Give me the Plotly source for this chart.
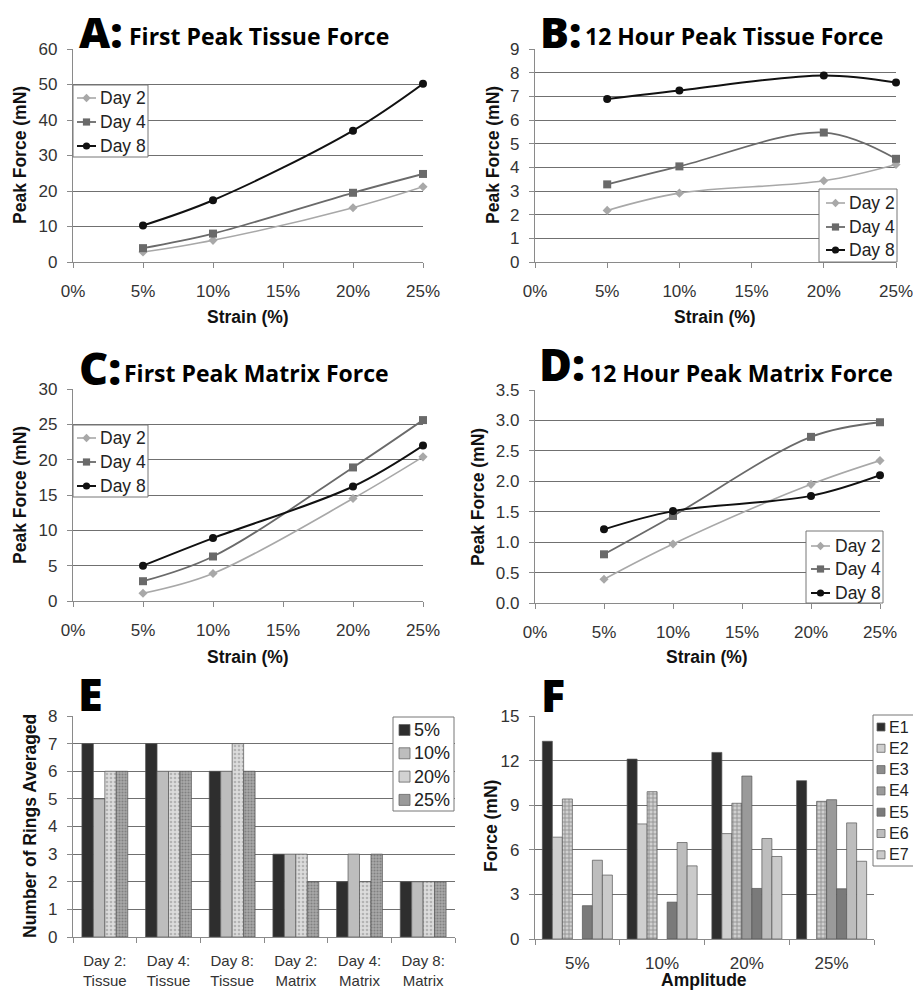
import plotly.graph_objects as go

W, H = 913, 990
def px(x): return x / W
def py(y): return 1 - y / H

# ---------------- data ----------------
strain = [5, 10, 20, 25]
strain_ticks = [0, 5, 10, 15, 20, 25]
strain_ticktext = ["0%", "5%", "10%", "15%", "20%", "25%"]
days = ["Day 2", "Day 4", "Day 8"]

a_day2 = [2.8, 6.1, 15.3, 21.2]
a_day4 = [3.9, 8.0, 19.5, 24.8]
a_day8 = [10.3, 17.4, 37.0, 50.2]

b_day2 = [2.18, 2.91, 3.43, 4.12]
b_day4 = [3.28, 4.04, 5.47, 4.36]
b_day8 = [6.89, 7.25, 7.88, 7.58]

c_day2 = [1.1, 3.9, 14.5, 20.4]
c_day4 = [2.8, 6.3, 18.9, 25.6]
c_day8 = [5.0, 8.9, 16.2, 22.0]

d_day2 = [0.39, 0.97, 1.95, 2.34]
d_day4 = [0.80, 1.43, 2.73, 2.97]
d_day8 = [1.21, 1.51, 1.76, 2.10]

e_categories = ["Day 2:<br>Tissue", "Day 4:<br>Tissue", "Day 8:<br>Tissue",
                "Day 2:<br>Matrix", "Day 4:<br>Matrix", "Day 8:<br>Matrix"]
e_series = ["5%", "10%", "20%", "25%"]
e_5 = [7, 7, 6, 3, 2, 2]
e_10 = [5, 6, 6, 3, 3, 2]
e_20 = [6, 6, 7, 3, 2, 2]
e_25 = [6, 6, 6, 2, 3, 2]

f_categories = ["5%", "10%", "20%", "25%"]
f_series = ["E1", "E2", "E3", "E4", "E5", "E6", "E7"]
f_E1 = [13.3, 12.1, 12.55, 10.65]
f_E2 = [6.85, 7.74, 7.09, None]
f_E3 = [9.42, 9.91, 9.13, 9.26]
f_E4 = [None, None, 10.96, 9.37]
f_E5 = [2.24, 2.48, 3.40, 3.38]
f_E6 = [5.30, 6.49, 6.76, 7.81]
f_E7 = [4.30, 4.92, 5.55, 5.23]

# ---------------- styles ----------------
ARIAL = "Liberation Sans, Arial, sans-serif"
TICKFONT = dict(family=ARIAL, size=17, color="#333")
GRID = "#707070"
AXIS = "#8a8a8a"
line_styles = [
    dict(color="#a8a8a8", width=1.6, symbol="diamond", msize=7),
    dict(color="#6a6a6a", width=1.8, symbol="square", msize=8),
    dict(color="#111111", width=2.0, symbol="circle", msize=8),
]

fig = go.Figure()

def add_lines(series, xa, ya):
    for name, vals, st in zip(days, series, line_styles):
        fig.add_trace(go.Scatter(
            x=strain, y=vals, name=name, mode="lines+markers", showlegend=False,
            line=dict(color=st["color"], width=st["width"], shape="spline", smoothing=1),
            marker=dict(symbol=st["symbol"], size=st["msize"], color=st["color"]),
            xaxis=xa, yaxis=ya, cliponaxis=False))

add_lines([a_day2, a_day4, a_day8], "x", "y")
add_lines([b_day2, b_day4, b_day8], "x2", "y2")
add_lines([c_day2, c_day4, c_day8], "x3", "y3")
add_lines([d_day2, d_day4, d_day8], "x4", "y4")

# E bars
e_vals = [e_5, e_10, e_20, e_25]
e_styles = [
    dict(color="#2e2e2e", swatch="#2e2e2e", pattern=None),
    dict(color="#bdbdbd", swatch="#bdbdbd", pattern=None),
    dict(color="#dcdcdc", swatch="#d2d2d2", pattern=dict(shape=".", fgcolor="#8a8a8a", size=4, solidity=0.35)),
    dict(color="#a9a9a9", swatch="#9a9a9a", pattern=dict(shape=".", fgcolor="#5a5a5a", size=3, solidity=0.4)),
]
ew = 0.18
for i, (name, vals, st) in enumerate(zip(e_series, e_vals, e_styles)):
    mk = dict(color=st["color"], line=dict(color="#555", width=0.7))
    if st["pattern"]:
        mk["pattern"] = st["pattern"]
    fig.add_trace(go.Bar(x=e_categories, y=vals, name=name, marker=mk,
                         width=ew, offset=-2 * ew + i * ew, showlegend=False,
                         xaxis="x5", yaxis="y5"))

# F bars
f_vals = [f_E1, f_E2, f_E3, f_E4, f_E5, f_E6, f_E7]
f_styles = [
    dict(color="#2e2e2e", swatch="#2e2e2e", pattern=None),
    dict(color="#cfcfcf", swatch="#cfcfcf", pattern=None),
    dict(color="#d0d0d0", swatch="#8c8c8c", pattern=dict(shape="+", fgcolor="#555", size=4, solidity=0.4)),
    dict(color="#9a9a9a", swatch="#9a9a9a", pattern=None),
    dict(color="#7a7a7a", swatch="#7a7a7a", pattern=None),
    dict(color="#bdbdbd", swatch="#bdbdbd", pattern=None),
    dict(color="#cacaca", swatch="#cacaca", pattern=None),
]
fw = 0.118
for i, (name, vals, st) in enumerate(zip(f_series, f_vals, f_styles)):
    mk = dict(color=st["color"], line=dict(color="#555", width=0.7))
    if st["pattern"]:
        mk["pattern"] = st["pattern"]
    fig.add_trace(go.Bar(x=f_categories, y=vals, name=name, marker=mk,
                         width=fw, offset=-3.5 * fw + i * fw, showlegend=False,
                         xaxis="x6", yaxis="y6"))

# ---------------- axes ----------------
def xline(dom, anchor, standoff=8):
    return dict(domain=[px(dom[0]), px(dom[1])], anchor=anchor, range=[0, 25],
                tickmode="array", tickvals=strain_ticks, ticktext=strain_ticktext,
                showgrid=False, showline=True, linecolor=AXIS, linewidth=1.3,
                ticks="outside", ticklen=5, tickcolor=AXIS, tickfont=TICKFONT,
                ticklabelstandoff=standoff, ticklabeloverflow="allow",
                zeroline=False, fixedrange=True)

def yax(dom, anchor, rng, dtick, fmt=None):
    d = dict(domain=[py(dom[1]), py(dom[0])], anchor=anchor, range=rng, dtick=dtick,
             tick0=0, showgrid=True, gridcolor=GRID, gridwidth=1.3,
             showline=True, linecolor=AXIS, linewidth=1.3, ticks="outside",
             ticklen=5, tickcolor=AXIS, tickfont=TICKFONT, zeroline=False,
             ticklabelstandoff=6, fixedrange=True)
    if fmt:
        d["tickformat"] = fmt
    return d

layout_axes = dict(
    xaxis=xline((73, 423), "y"),
    yaxis=yax((49, 262), "x", [0, 60], 10),
    xaxis2=xline((535, 896), "y2"),
    yaxis2=yax((49, 262), "x2", [0, 9], 1),
    xaxis3=xline((73, 423), "y3"),
    yaxis3=yax((389, 601), "x3", [0, 30], 5),
    xaxis4=xline((535, 880), "y4"),
    yaxis4=yax((390, 603), "x4", [0, 3.5], 0.5, ".1f"),
    xaxis5=dict(domain=[px(73), px(455)], anchor="y5", showgrid=False, showline=True,
                linecolor=AXIS, linewidth=1.3, ticks="outside", tickson="boundaries",
                ticklen=5, tickcolor=AXIS, ticklabelstandoff=10,
                tickfont=dict(family=ARIAL, size=15, color="#333"),
                fixedrange=True),
    yaxis5=yax((716, 937), "x5", [0, 8], 1),
    xaxis6=dict(domain=[px(535), px(874)], anchor="y6", showgrid=False, showline=True,
                linecolor=AXIS, linewidth=1.3, ticks="outside", tickson="boundaries",
                ticklen=5, tickcolor=AXIS, ticklabelstandoff=8, tickfont=TICKFONT,
                fixedrange=True),
    yaxis6=yax((716, 939), "x6", [0, 15], 3),
)

# ---------------- annotations & shapes ----------------
ann = []
shapes = []
BIG = dict(family="Open Sans, sans-serif", size=45, color="black", weight=800)
SUB = dict(family="Open Sans, sans-serif", size=23, color="black", weight=700)
AXT = dict(family=ARIAL, size=17.5, color="#111", weight=700)
LEGFONT = dict(family=ARIAL, size=17.5, color="#222")

def title(letter, lx, cy, text=None, tx=0, base=0, top=False):
    if top:
        ann.append(dict(text=letter, x=px(lx), y=1, xref="paper", yref="paper",
                        xanchor="left", yanchor="top", showarrow=False,
                        font=dict(BIG, size=43)))
    else:
        ann.append(dict(text=letter, x=px(lx), y=py(cy), xref="paper", yref="paper",
                        xanchor="left", yanchor="middle", showarrow=False, font=BIG))
    if text:
        ann.append(dict(text=text, x=px(tx), y=py(base - 0.388 * 23), xref="paper", yref="paper",
                        xanchor="left", yanchor="middle", showarrow=False, font=SUB))

title("A:", 77, 29, "First Peak Tissue Force", 127, 45, top=True)
title("B:", 538, 29, "12 Hour Peak Tissue Force", 583, 45, top=True)
title("C:", 77, 367, "First Peak Matrix Force", 122, 382)
title("D:", 537, 364, "12 Hour Peak Matrix Force", 588, 382)
title("E", 76, 693)
title("F", 539, 694)

def ytitle(text, x, y):
    ann.append(dict(text=text, x=px(x), y=py(y), xref="paper", yref="paper",
                    xanchor="center", yanchor="middle", textangle=-90,
                    showarrow=False, font=AXT))

def xtitle(text, x, y, size=17.5):
    ann.append(dict(text=text, x=px(x), y=py(y), xref="paper", yref="paper",
                    xanchor="center", yanchor="middle", showarrow=False,
                    font=dict(AXT, size=size)))

ytitle("Peak Force (mN)", 20, 155)
ytitle("Peak Force (mN)", 493, 155)
ytitle("Peak Force (mN)", 20, 495)
ytitle("Peak Force (mN)", 478, 497)
ytitle("Number of Rings Averaged", 30, 826)
ytitle("Force (mN)", 491, 826)
xtitle("Strain (%)", 248, 317)
xtitle("Strain (%)", 715, 317)
xtitle("Strain (%)", 248, 657)
xtitle("Strain (%)", 707, 657)
xtitle("Amplitude", 704, 980, 17.5)

def box(b):
    shapes.append(dict(type="rect", xref="paper", yref="paper", layer="above",
                       x0=px(b[0]), x1=px(b[1]), y0=py(b[3]), y1=py(b[2]),
                       fillcolor="white", line=dict(color="#777", width=1)))

# custom legends for line panels: box, line sample with marker, label
def line_legend(b, ys, lx0, lx1, tx):
    box(b)
    for name, cy, st in zip(days, ys, line_styles):
        shapes.append(dict(type="line", xref="paper", yref="paper", layer="above",
                           x0=px(lx0), x1=px(lx1), y0=py(cy), y1=py(cy),
                           line=dict(color=st["color"], width=st["width"])))
        cx = (lx0 + lx1) / 2
        r = 3.6
        if st["symbol"] == "circle":
            shapes.append(dict(type="circle", xref="paper", yref="paper", layer="above",
                               x0=px(cx - r), x1=px(cx + r), y0=py(cy + r), y1=py(cy - r),
                               fillcolor=st["color"], line=dict(width=0)))
        elif st["symbol"] == "square":
            shapes.append(dict(type="rect", xref="paper", yref="paper", layer="above",
                               x0=px(cx - r), x1=px(cx + r), y0=py(cy + r), y1=py(cy - r),
                               fillcolor=st["color"], line=dict(width=0)))
        else:
            d = 4.2
            path = (f"M {px(cx)} {py(cy - d)} L {px(cx + d)} {py(cy)} "
                    f"L {px(cx)} {py(cy + d)} L {px(cx - d)} {py(cy)} Z")
            shapes.append(dict(type="path", xref="paper", yref="paper", layer="above",
                               path=path, fillcolor=st["color"], line=dict(width=0)))
        ann.append(dict(text=name, x=px(tx), y=py(cy), xref="paper", yref="paper",
                        xanchor="left", yanchor="middle", showarrow=False, font=LEGFONT))

line_legend((73, 148, 85, 157), [98, 122, 146], 77, 96, 98)
line_legend((819, 897, 189, 262), [203, 227, 250], 826, 845, 847)
line_legend((73, 148, 425, 497), [438, 462, 486], 77, 96, 98)
line_legend((806, 883, 531, 603), [546, 569, 593], 811, 830, 833)

# custom legends for the bar panels (box, swatch, label)
def bar_legend(b, names, styles, y0, step, sw_x, sw_size, text_x, fsize):
    box(b)
    for i, (name, st) in enumerate(zip(names, styles)):
        cy = y0 + i * step
        shapes.append(dict(type="rect", xref="paper", yref="paper", layer="above",
                           x0=px(sw_x), x1=px(sw_x + sw_size),
                           y0=py(cy + sw_size / 2), y1=py(cy - sw_size / 2),
                           fillcolor=st["swatch"], line=dict(color="#666", width=0.8)))
        ann.append(dict(text=name, x=px(text_x), y=py(cy), xref="paper", yref="paper",
                        xanchor="left", yanchor="middle", showarrow=False,
                        font=dict(family=ARIAL, size=fsize, color="#222")))

bar_legend((393, 454, 717, 811), e_series, e_styles, 730, 23.3, 399, 11, 412, 18)
bar_legend((873, 925, 715, 866), f_series, f_styles, 727, 21.3, 877, 8, 887, 16)

fig.update_layout(
    width=W, height=H,
    margin=dict(l=0, r=0, t=0, b=0, autoexpand=False),
    paper_bgcolor="white", plot_bgcolor="white",
    barmode="group",
    showlegend=False,
    annotations=ann,
    shapes=shapes,
    **layout_axes,
)

fig.write_html("out.html")
